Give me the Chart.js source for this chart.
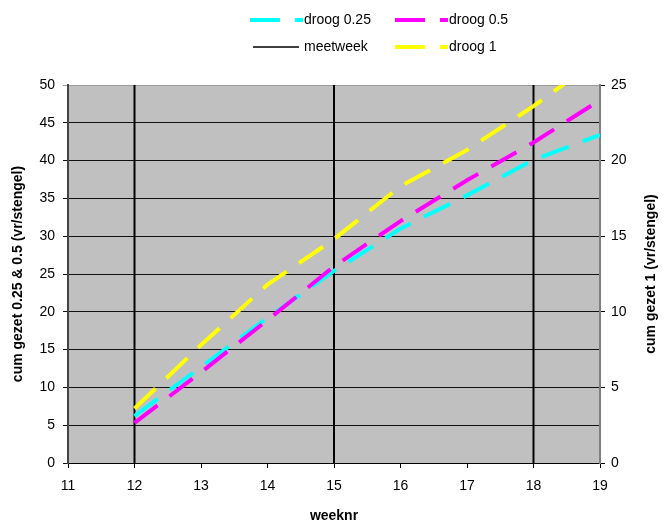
<!DOCTYPE html>
<html>
<head>
<meta charset="utf-8">
<script src="https://cdn.jsdelivr.net/npm/chart.js@4/dist/chart.umd.min.js"></script>
<style>
  html, body { margin: 0; padding: 0; background: #ffffff; }
  #wrap { width: 672px; height: 530px; }
</style>
</head>
<body>
<div id="wrap"><canvas id="c" width="672" height="530"></canvas></div>
<script>
// Week numbers with a measurement
const weeks = [12, 13, 14, 15, 16, 17, 18, 19];
// Cumulative set (vr/stengel), left axis
const droog025 = [6.2, 12.7, 19.2, 25.4, 31.0, 35.4, 40.1, 43.4];
const droog05 = [5.3, 12.0, 18.9, 26.0, 32.0, 37.4, 42.4, 48.0];
// Cumulative set for droog 1, right axis
const droog1 = [3.6, 7.8, 11.8, 14.8, 18.3, 20.7, 23.6, 26.8];
// Measurement weeks, drawn as vertical lines
const meetweken = [12, 15, 18];
// Axis ranges
const xRange = [11, 19];
const yLeftRange = [0, 50];
const yRightRange = [0, 25];
const rightTitle = 'cum gezet 1 (vr/stengel)';

const FONT = "'Liberation Sans', Arial, sans-serif";
Chart.defaults.font.family = FONT;
Chart.defaults.color = '#000';

const toPoints = (vals) => weeks.map((w, i) => ({ x: w, y: vals[i] }));

const meetPoints = [];
meetweken.forEach(w => {
  meetPoints.push({ x: w, y: yLeftRange[0] });
  meetPoints.push({ x: w, y: yLeftRange[1] });
  meetPoints.push({ x: w, y: null });
});

const DASH = [29, 15];

const plotBackground = {
  id: 'plotBackground',
  beforeDraw(chart) {
    const { ctx, chartArea: a } = chart;
    ctx.save();
    ctx.fillStyle = '#c0c0c0';
    ctx.fillRect(a.left, a.top, a.right - a.left, a.bottom - a.top);
    ctx.restore();
  }
};

// Right axis title, reading bottom to top like the left one
const rightAxisTitle = {
  id: 'rightAxisTitle',
  afterDraw(chart) {
    const { ctx, chartArea: a } = chart;
    ctx.save();
    ctx.translate(651, (a.top + a.bottom) / 2);
    ctx.rotate(-Math.PI / 2);
    ctx.font = 'bold 14px ' + FONT;
    ctx.fillStyle = '#000';
    ctx.textAlign = 'center';
    ctx.textBaseline = 'middle';
    ctx.fillText(rightTitle, 0, 0);
    ctx.restore();
  }
};

// Two-column legend above the plot
const gridLegend = {
  id: 'gridLegend',
  afterDraw(chart) {
    const ctx = chart.ctx;
    const ds = chart.data.datasets;
    const slots = [
      { label: 'droog 0.25', x: 250, y: 20 },
      { label: 'droog 0.5', x: 395, y: 20 },
      { label: 'meetweek', x: 250, y: 47 },
      { label: 'droog 1', x: 395, y: 47 }
    ];
    ctx.save();
    slots.forEach(s => {
      const d = ds.find(e => e.label === s.label);
      ctx.strokeStyle = d.borderColor;
      ctx.beginPath();
      if (d.borderDash && d.borderDash.length) {
        ctx.lineWidth = d.borderWidth;
        ctx.setLineDash([30, 15]);
        ctx.moveTo(s.x, s.y);
        ctx.lineTo(s.x + 53, s.y);
      } else {
        ctx.lineWidth = 1.5;
        ctx.setLineDash([]);
        ctx.moveTo(s.x + 3, s.y);
        ctx.lineTo(s.x + 49, s.y);
      }
      ctx.stroke();
      ctx.setLineDash([]);
      ctx.fillStyle = '#000';
      ctx.font = '14px ' + FONT;
      ctx.textBaseline = 'middle';
      ctx.textAlign = 'left';
      ctx.fillText(s.label, s.x + 54, s.y);
    });
    ctx.restore();
  }
};

const tickFont = { size: 14 };
const titleFont = { size: 14, weight: 'bold' };

new Chart(document.getElementById('c'), {
  type: 'line',
  data: {
    datasets: [
      { label: 'droog 1', data: toPoints(droog1), yAxisID: 'y2', borderColor: '#ffff00',
        borderWidth: 4, borderDash: DASH, pointRadius: 0, fill: false, tension: 0 },
      { label: 'droog 0.5', data: toPoints(droog05), yAxisID: 'y', borderColor: '#ff00ff',
        borderWidth: 4, borderDash: DASH, pointRadius: 0, fill: false, tension: 0 },
      { label: 'droog 0.25', data: toPoints(droog025), yAxisID: 'y', borderColor: '#00ffff',
        borderWidth: 4, borderDash: DASH, pointRadius: 0, fill: false, tension: 0 },
      { label: 'meetweek', data: meetPoints, yAxisID: 'y', borderColor: '#000000',
        borderWidth: 2, pointRadius: 0, fill: false, spanGaps: false, tension: 0 }
    ]
  },
  options: {
    responsive: false,
    animation: false,
    layout: { padding: { top: 85, left: 0, right: 0, bottom: 0 } },
    plugins: { legend: { display: false }, tooltip: { enabled: false } },
    scales: {
      x: {
        type: 'linear', min: xRange[0], max: xRange[1],
        ticks: { stepSize: 1, font: tickFont, padding: 10, color: '#000' },
        grid: { drawOnChartArea: false, tickLength: 5, color: '#000' },
        border: { color: '#000', width: 1 },
        title: { display: true, text: 'weeknr', font: titleFont, color: '#000', padding: { top: 0, bottom: 5 } },
        afterFit(s) { s.height = 67; }
      },
      y: {
        position: 'left', min: yLeftRange[0], max: yLeftRange[1],
        ticks: { stepSize: 5, font: tickFont, padding: 8, color: '#000' },
        grid: { tickLength: 5, color: (c) => c.tick && c.tick.value === yLeftRange[1] ? '#9a9a9a' : '#111' },
        border: { color: '#444', width: 2 },
        title: { display: true, text: 'cum gezet 0.25 & 0.5 (vr/stengel)', font: titleFont, color: '#000', padding: { top: 10, bottom: 0 } },
        afterFit(s) { s.width = 68; }
      },
      y2: {
        position: 'right', min: yRightRange[0], max: yRightRange[1],
        ticks: { stepSize: 5, font: tickFont, padding: 6, color: '#000' },
        grid: { drawOnChartArea: false, tickLength: 5, color: '#000' },
        border: { color: '#808080', width: 2 },
        title: { display: false },
        afterFit(s) { s.width = 72; }
      }
    }
  },
  plugins: [plotBackground, gridLegend, rightAxisTitle]
});
</script>
</body>
</html>
